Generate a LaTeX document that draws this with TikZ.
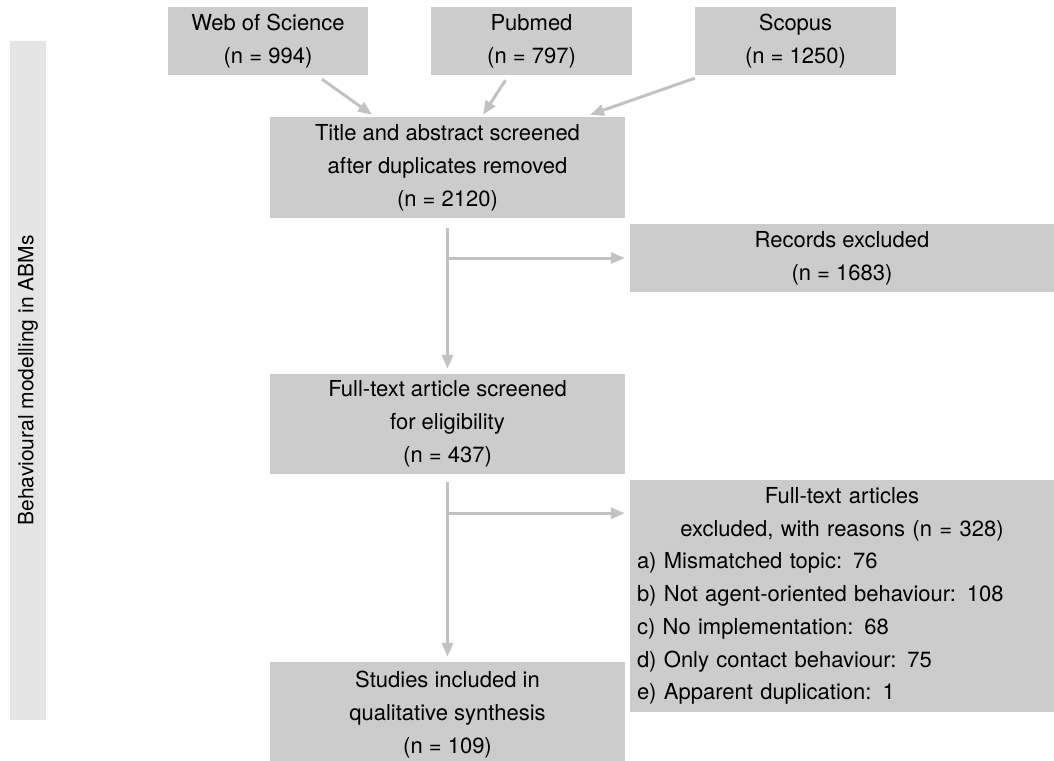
\documentclass[tikz,border=0pt]{standalone}
\usepackage{fontspec}
\setmainfont{TeX Gyre Heros}
\usetikzlibrary{arrows.meta}
\definecolor{boxgray}{gray}{0.80}
\definecolor{bargray}{gray}{0.90}
\definecolor{arrowgray}{gray}{0.76}
\begin{document}
\begin{tikzpicture}[x=1pt,y=-1pt,
    box/.style={fill=boxgray, inner sep=0pt, align=center, font=\fontsize{22}{33}\selectfont},
    arr/.style={draw=arrowgray, line width=3pt, -{Triangle[length=14pt,width=11pt]}},
    seg/.style={draw=arrowgray, line width=3pt}]
    \useasboundingbox (0,0) rectangle (1054,760);

    \node (side)[fill=bargray, rotate=90, minimum width=679pt, minimum height=36pt, inner sep=0pt,
                 font=\fontsize{21}{25}\selectfont] at (28,380.5) {Behavioural modelling in ABMs};

    \node (wos)[box, minimum width=200pt, minimum height=68pt]    at (268,41)   {Web of Science\\(n = 994)};
    \node (pubmed)[box, minimum width=201pt, minimum height=68pt] at (531.5,41) {Pubmed\\(n = 797)};
    \node (scopus)[box, minimum width=201pt, minimum height=68pt] at (795.5,41) {Scopus\\(n = 1250)};

    \node (title)[box, minimum width=355pt, minimum height=101pt] at (447.5,167.5)
        {Title and abstract screened\\after duplicates removed\\(n = 2120)};
    \node (records)[box, minimum width=424pt, minimum height=68pt] at (842,258)
        {Records excluded\\(n = 1683)};
    \node (fulltext)[box, minimum width=355pt, minimum height=100pt] at (447.5,424)
        {Full-text article screened\\for eligibility\\(n = 437)};
    \node (excluded)[box, minimum width=424pt, minimum height=232pt, text width=410pt, align=left,
                     font=\fontsize{22}{32.7}\selectfont] at (842,596)
        {\makebox[\linewidth][c]{Full-text articles}\\
         \makebox[\linewidth][c]{excluded, with reasons (n = 328)}\\
         a) Mismatched topic: 76\\
         b) Not agent-oriented behaviour: 108\\
         c) No implementation: 68\\
         d) Only contact behaviour: 75\\
         e) Apparent duplication: 1};
    \node (studies)[box, minimum width=355pt, minimum height=106pt] at (447.5,715)
        {Studies included in\\qualitative synthesis\\(n = 109)};

    \draw[arr] ([xshift=54pt,yshift=-4pt]wos.south) -- ([xshift=-75.5pt,yshift=2pt]title.north);
    \draw[arr] ([xshift=-26pt,yshift=-5pt]pubmed.south) -- ([xshift=35.5pt,yshift=2pt]title.north);
    \draw[arr] ([yshift=-3pt]scopus.south west) -- ([xshift=142.5pt,yshift=2pt]title.north);

    \draw[arr] ([yshift=-10pt]title.south) -- ([yshift=5pt]fulltext.north);
    \draw[arr, shorten >=5pt] (title.south |- records.west) -- (records.west);

    \coordinate (split) at ([yshift=-39pt]fulltext.south);
    \draw[seg] ([yshift=-8pt]fulltext.south) -- (split);
    \draw[arr] (split) -- ([yshift=5pt]studies.north);
    \draw[arr, shorten >=5pt] (split) -- (split -| excluded.west);
\end{tikzpicture}
\end{document}
